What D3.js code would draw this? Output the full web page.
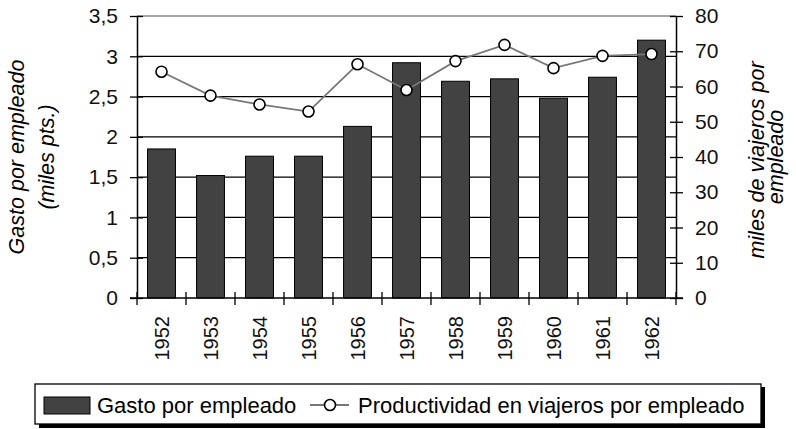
<!DOCTYPE html>
<html>
<head>
<meta charset="utf-8">
<script src="https://cdn.jsdelivr.net/npm/d3@7"></script>
<style>
  body { margin: 0; background: #fff; }
  svg { font-family: "Liberation Sans", Arial, sans-serif; }
</style>
</head>
<body>
<svg width="796" height="429"></svg>
<script>
// data
var years = ['1952','1953','1954','1955','1956','1957','1958','1959','1960','1961','1962'];
var gasto = [1.85, 1.52, 1.76, 1.76, 2.13, 2.92, 2.69, 2.72, 2.48, 2.74, 3.20];
var productividad = [64.2, 57.4, 54.9, 52.9, 66.3, 59.0, 67.2, 71.8, 65.2, 68.7, 69.2];
var leftTicks = [0, 0.5, 1, 1.5, 2, 2.5, 3, 3.5];
var rightTicks = [0, 10, 20, 30, 40, 50, 60, 70, 80];

var svg = d3.select('svg');
var plotLeft = 137, plotRight = 676, plotTop = 16, plotBottom = 298;

var x = d3.scaleBand().domain(years).range([plotLeft, plotRight]).paddingInner(0.43).paddingOuter(0.215);
var yL = d3.scaleLinear().domain([0, 3.5]).range([plotBottom, plotTop]);
var yR = d3.scaleLinear().domain([0, 80]).range([plotBottom, plotTop]);
var fmt = function(d){ return String(d).replace('.', ','); };

// gridlines
svg.append('g').selectAll('line')
    .data(leftTicks.filter(function(d){ return d > 0; }))
    .enter().append('line')
    .attr('x1', plotLeft).attr('x2', plotRight)
    .attr('y1', function(d){ return yL(d); })
    .attr('y2', function(d){ return yL(d); })
    .attr('stroke', function(d){ return d == 3.5 ? '#888' : '#000'; })
    .attr('stroke-width', 1.3);

// bars
svg.append('g').selectAll('rect')
    .data(gasto)
    .enter().append('rect')
    .attr('x', function(d, i){ return x(years[i]); })
    .attr('y', function(d){ return yL(d); })
    .attr('width', x.bandwidth())
    .attr('height', function(d){ return plotBottom - yL(d); })
    .attr('fill', '#424242')
    .attr('stroke', '#000')
    .attr('stroke-width', 1);

// left axis
var axL = svg.append('g')
    .attr('transform', 'translate(' + plotLeft + ',0)')
    .call(d3.axisLeft(yL).tickValues(leftTicks).tickFormat(fmt).tickSizeInner(7).tickSizeOuter(0).tickPadding(12));
axL.selectAll('.tick line').attr('x1', 6).attr('x2', -7).attr('stroke-width', 1.3);
axL.select('.domain').attr('stroke-width', 1.5);
axL.selectAll('text').attr('font-size', 21).attr('fill', '#111').style('font-family', 'Liberation Sans, Arial');

// right axis
var axR = svg.append('g')
    .attr('transform', 'translate(' + plotRight + ',0)')
    .call(d3.axisRight(yR).tickValues(rightTicks).tickSizeInner(7).tickSizeOuter(0).tickPadding(12));
axR.selectAll('.tick line').attr('x1', -6).attr('x2', 7).attr('stroke-width', 1.3);
axR.select('.domain').attr('stroke-width', 1.5);
axR.selectAll('text').attr('font-size', 21).attr('fill', '#111').style('font-family', 'Liberation Sans, Arial');

// x axis
var step = x.step();
svg.append('line').attr('x1', plotLeft - 7).attr('x2', plotRight + 7)
    .attr('y1', plotBottom).attr('y2', plotBottom).attr('stroke', '#000').attr('stroke-width', 1.5);
svg.append('g').selectAll('line')
    .data(d3.range(years.length + 1))
    .enter().append('line')
    .attr('x1', function(i){ return plotLeft + i * step; })
    .attr('x2', function(i){ return plotLeft + i * step; })
    .attr('y1', plotBottom - 6).attr('y2', plotBottom + 7)
    .attr('stroke', '#000').attr('stroke-width', 1.3);
svg.append('g').selectAll('text')
    .data(years)
    .enter().append('text')
    .attr('transform', function(d){ return 'translate(' + (x(d) + x.bandwidth() / 2 + 7) + ',' + (plotBottom + 18) + ') rotate(-90)'; })
    .attr('text-anchor', 'end')
    .attr('font-size', 20)
    .attr('fill', '#111')
    .text(function(d){ return d; });

// line series
var line = d3.line()
    .x(function(d, i){ return x(years[i]) + x.bandwidth() / 2; })
    .y(function(d){ return yR(d); });
svg.append('path').datum(productividad)
    .attr('d', line).attr('fill', 'none').attr('stroke', '#777').attr('stroke-width', 1.8);
svg.append('g').selectAll('circle')
    .data(productividad)
    .enter().append('circle')
    .attr('cx', function(d, i){ return x(years[i]) + x.bandwidth() / 2; })
    .attr('cy', function(d){ return yR(d); })
    .attr('r', 5.5)
    .attr('fill', '#fff').attr('stroke', '#000').attr('stroke-width', 1.6);

// axis titles
svg.append('text')
    .attr('transform', 'translate(24,157) rotate(-90)')
    .attr('text-anchor', 'middle').attr('font-size', 21.5).attr('font-style', 'italic')
    .text('Gasto por empleado');
svg.append('text')
    .attr('transform', 'translate(54,157) rotate(-90)')
    .attr('text-anchor', 'middle').attr('font-size', 21.5).attr('font-style', 'italic')
    .text('(miles pts.)');
svg.append('text')
    .attr('transform', 'translate(764,160) rotate(-90)')
    .attr('text-anchor', 'middle').attr('font-size', 21.5).attr('font-style', 'italic')
    .text('miles de viajeros por');
svg.append('text')
    .attr('transform', 'translate(783,157) rotate(-90)')
    .attr('text-anchor', 'middle').attr('font-size', 21.5).attr('font-style', 'italic')
    .text('empleado');

// legend
var lg = svg.append('g');
lg.append('rect').attr('x', 39).attr('y', 387).attr('width', 726).attr('height', 41).attr('fill', '#000');
lg.append('rect').attr('x', 35).attr('y', 384).attr('width', 726).attr('height', 40)
    .attr('fill', '#fff').attr('stroke', '#000').attr('stroke-width', 1.3);
lg.append('rect').attr('x', 44).attr('y', 397).attr('width', 46).attr('height', 17)
    .attr('fill', '#424242').attr('stroke', '#000');
lg.append('text').attr('x', 97).attr('y', 413).attr('font-size', 22).text('Gasto por empleado');
lg.append('line').attr('x1', 310).attr('x2', 349).attr('y1', 405).attr('y2', 405)
    .attr('stroke', '#777').attr('stroke-width', 1.8);
lg.append('circle').attr('cx', 330).attr('cy', 405).attr('r', 5.5)
    .attr('fill', '#fff').attr('stroke', '#000').attr('stroke-width', 1.6);
lg.append('text').attr('x', 358).attr('y', 413).attr('font-size', 22).text('Productividad en viajeros por empleado');
</script>
</body>
</html>
